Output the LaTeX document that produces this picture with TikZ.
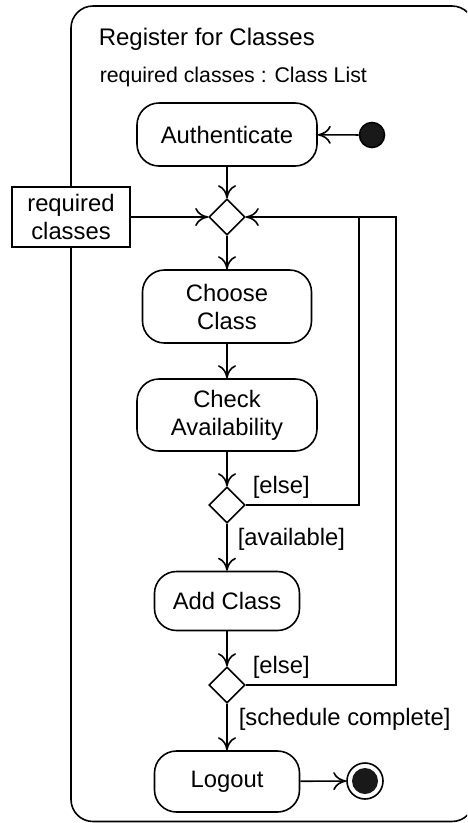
\documentclass[tikz,border=0pt]{standalone}
\usepackage{fontspec}
\setmainfont{Liberation Sans}
\usetikzlibrary{arrows.meta,shapes.geometric}

\tikzset{
  txt/.style={font=\fontsize{23.8}{28}\selectfont},
  action/.style={txt, draw, rounded corners=22pt, align=center, inner sep=0pt},
  decision/.style={draw, diamond, minimum width=36pt, minimum height=36pt, inner sep=0pt},
  pinbox/.style={txt, draw, fill=white, align=center, inner sep=0pt,
                 minimum width=118pt, minimum height=60pt},
  guard/.style={txt, anchor=base west, inner sep=0pt},
  flow/.style={-{Computer Modern Rightarrow[length=13pt,width=18pt]}},
}

\begin{document}
\begin{tikzpicture}[x=1pt, y=-1pt, line width=1.6pt]
\useasboundingbox (0,0) rectangle (467,823);
\clip (0,0) rectangle (467,823);

% activity frame
\draw[rounded corners=22pt] (71,6) rectangle (474,821.5);
\node[anchor=base west, inner sep=0pt, font=\fontsize{24}{28}\selectfont] (title) at (98,45) {Register for Classes};
\node[anchor=base west, inner sep=0pt, font=\fontsize{21.3}{25}\selectfont] (param) at (99,82) {required classes : Class List};

% actions
\node[action, minimum width=180pt, minimum height=63pt] (auth)   at (227,134.5) {Authenticate};
\node[action, minimum width=169pt, minimum height=73pt] (choose) at (227,306.5) {Choose\\Class};
\node[action, minimum width=180pt, minimum height=72pt] (check)  at (227,415)   {Check\\Availability};
\node[action, minimum width=145pt, minimum height=59pt] (add)    at (227,601)   {Add Class};
\node[action, minimum width=145pt, minimum height=61pt] (logout) at (227,781.5) {Logout};

% decision / merge nodes
\node[decision] (d1) at (227,217) {};
\node[decision] (d2) at (227,505) {};
\node[decision] (d3) at (227,685) {};

% initial and final nodes
\node[circle, fill=black!90, draw, minimum size=25pt, inner sep=0pt] (init) at (372,135) {};
\node[circle, draw, minimum size=36pt, inner sep=0pt] (final) at (365,781) {};
\node[circle, fill=black!90, minimum size=26pt, inner sep=0pt] (finaldot) at (final.center) {};

% parameter pin
\node[pinbox] (pin) at (71,217) {required\\classes};

% guards
\node[guard] (g1) at (252,493) {[else]};
\node[guard] (g2) at (237,545) {[available]};
\node[guard] (g3) at (252,673) {[else]};
\node[guard] (g4) at (238,725) {[schedule complete]};

% loop-back junctions
\coordinate (j1) at (359,217);
\coordinate (j2) at (396,217);

% flows
\draw[flow] (init) -- (auth);
\draw[flow] (auth) -- (d1);
\draw[flow] (pin) -- (d1);
\draw[flow] (d1) -- (choose);
\draw[flow] (choose) -- (check);
\draw[flow] (check) -- (d2);
\draw[flow] (d2) -- (add);
\draw[flow] (add) -- (d3);
\draw[flow] (d3) -- (logout);
\draw[flow] (logout) -- (final);
\draw (d2.east) -| (j1);
\draw[flow] (d3.east) -| (j2) -- (d1.east);
\end{tikzpicture}
\end{document}
